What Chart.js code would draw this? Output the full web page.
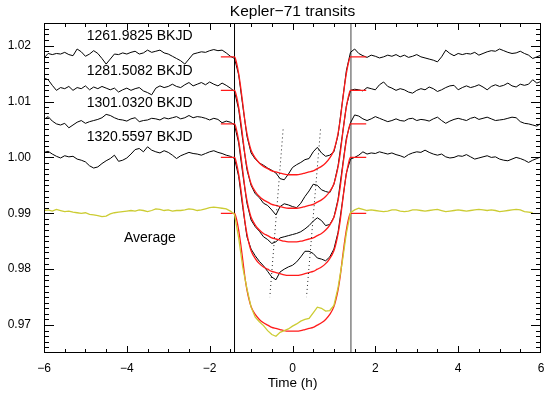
<!DOCTYPE html>
<html><head><meta charset="utf-8">
<script src="https://cdn.jsdelivr.net/npm/chart.js@4.4.1/dist/chart.umd.min.js"></script>
<style>html,body{margin:0;padding:0;background:#fff;}canvas{display:block;}</style>
</head><body>
<canvas id="c" width="545" height="394"></canvas>
<script>
// ---------- data ----------
const timeGrid = [-6.0,-5.9,-5.8,-5.7,-5.6,-5.5,-5.4,-5.3,-5.2,-5.1,-5.0,-4.9,-4.8,-4.7,-4.6,-4.5,-4.4,-4.3,-4.2,-4.1,
-4.0,-3.9,-3.8,-3.7,-3.6,-3.5,-3.4,-3.3,-3.2,-3.1,-3.0,-2.9,-2.8,-2.7,-2.6,-2.5,-2.4,-2.3,-2.2,-2.1,
-2.0,-1.9,-1.8,-1.7,-1.6,-1.5,-1.4,-1.3,-1.2,-1.1,-1.0,-0.9,-0.8,-0.7,-0.6,-0.5,-0.4,-0.3,-0.2,-0.1,
0.0,0.1,0.2,0.3,0.4,0.5,0.6,0.7,0.8,0.9,1.0,1.1,1.2,1.3,1.4,1.5,1.6,1.7,1.8,1.9,
2.0,2.1,2.2,2.3,2.4,2.5,2.6,2.7,2.8,2.9,3.0,3.1,3.2,3.3,3.4,3.5,3.6,3.7,3.8,3.9,
4.0,4.1,4.2,4.3,4.4,4.5,4.6,4.7,4.8,4.9,5.0,5.1,5.2,5.3,5.4,5.5,5.6,5.7,5.8,5.9,6.0];

const flux1261 = [1.0178,1.0186,1.0184,1.0186,1.0185,1.0188,1.0184,1.0182,1.0194,1.0189,
1.0181,1.0185,1.0191,1.0186,1.0177,1.0167,1.0176,1.0185,1.0184,1.0187,
1.0185,1.0188,1.0190,1.0185,1.0187,1.0192,1.0188,1.0190,1.0192,1.0187,
1.0185,1.0181,1.0177,1.0173,1.0167,1.0176,1.0185,1.0187,1.0189,1.0188,
1.0191,1.0193,1.0191,1.0192,1.0187,1.0181,1.0177,
1.0148,1.0092,1.0038,1.0008,0.9997,0.9990,0.9986,0.9981,0.9977,0.9972,
0.9962,0.9960,0.9970,0.9982,0.9987,0.9991,0.9996,0.9998,1.0010,1.0018,
1.0008,1.0002,1.0004,1.0010,1.0040,1.0097,1.0155,1.0188,1.0194,
1.0186,1.0182,1.0179,1.0183,1.0181,1.0178,1.0180,1.0183,1.0181,1.0184,
1.0180,1.0183,1.0179,1.0181,1.0184,1.0180,1.0178,1.0176,1.0174,1.0171,
1.0180,1.0192,1.0186,1.0182,1.0186,1.0184,1.0186,1.0185,1.0188,1.0183,
1.0186,1.0189,1.0191,1.0190,1.0194,1.0191,1.0188,1.0186,1.0187,1.0190,
1.0186,1.0183,1.0177,1.0180,1.0183];

const flux1281 = [1.0142,1.0139,1.0129,1.0120,1.0125,1.0123,1.0127,1.0120,1.0125,1.0123,
1.0128,1.0121,1.0126,1.0123,1.0127,1.0124,1.0121,1.0124,1.0117,1.0121,
1.0124,1.0120,1.0123,1.0125,1.0119,1.0116,1.0112,1.0124,1.0128,1.0125,
1.0127,1.0131,1.0127,1.0125,1.0130,1.0134,1.0128,1.0131,1.0134,1.0130,
1.0135,1.0131,1.0128,1.0133,1.0129,1.0124,1.0118,
1.0086,1.0030,0.9978,0.9950,0.9935,0.9928,0.9918,0.9914,0.9906,0.9897,
0.9912,0.9917,0.9915,0.9912,0.9910,0.9918,0.9930,0.9940,0.9952,0.9950,
0.9942,0.9939,0.9937,0.9952,0.9985,1.0038,1.0092,1.0120,1.0122,
1.0121,1.0119,1.0125,1.0123,1.0121,1.0130,1.0135,1.0127,1.0124,1.0120,
1.0123,1.0121,1.0117,1.0115,1.0120,1.0123,1.0121,1.0126,1.0123,1.0118,
1.0121,1.0125,1.0128,1.0129,1.0121,1.0125,1.0128,1.0125,1.0127,1.0130,
1.0126,1.0121,1.0127,1.0130,1.0127,1.0129,1.0133,1.0128,1.0126,1.0131,
1.0129,1.0131,1.0139,1.0133,1.0136];

const flux1301 = [1.0068,1.0073,1.0065,1.0060,1.0058,1.0061,1.0053,1.0058,1.0063,1.0066,
1.0061,1.0064,1.0066,1.0068,1.0071,1.0077,1.0075,1.0071,1.0068,1.0067,
1.0065,1.0069,1.0071,1.0064,1.0066,1.0067,1.0070,1.0069,1.0067,1.0071,
1.0069,1.0071,1.0073,1.0069,1.0071,1.0075,1.0071,1.0073,1.0072,1.0070,
1.0067,1.0070,1.0068,1.0062,1.0065,1.0063,1.0058,
1.0026,0.9970,0.9918,0.9888,0.9876,0.9868,0.9858,0.9853,0.9846,0.9849,
0.9856,0.9858,0.9860,0.9862,0.9864,0.9867,0.9872,0.9878,0.9886,0.9892,
0.9887,0.9878,0.9880,0.9893,0.9925,0.9980,1.0034,1.0062,1.0076,
1.0074,1.0069,1.0066,1.0069,1.0073,1.0070,1.0067,1.0064,1.0066,1.0069,
1.0066,1.0065,1.0069,1.0070,1.0066,1.0068,1.0067,1.0065,1.0069,1.0072,
1.0066,1.0061,1.0065,1.0068,1.0070,1.0068,1.0066,1.0070,1.0072,1.0068,
1.0070,1.0072,1.0069,1.0066,1.0067,1.0068,1.0070,1.0072,1.0071,1.0064,
1.0061,1.0060,1.0058,1.0056,1.0061];

const flux1320 = [1.0009,1.0011,1.0006,1.0002,0.9999,1.0003,1.0001,1.0002,0.9997,0.9995,
0.9992,0.9985,0.9981,0.9983,0.9989,0.9994,0.9998,1.0004,0.9993,0.9995,
0.9999,1.0006,1.0014,1.0016,1.0010,1.0019,1.0013,1.0010,1.0008,1.0012,
1.0009,1.0004,0.9998,1.0003,1.0006,1.0009,1.0007,1.0006,1.0004,1.0007,
1.0010,1.0012,1.0009,1.0007,1.0004,1.0002,0.9998,
0.9966,0.9910,0.9858,0.9836,0.9824,0.9814,0.9806,0.9796,0.9786,0.9781,
0.9795,0.9800,0.9804,0.9807,0.9813,0.9822,0.9832,0.9832,0.9828,0.9820,
0.9818,0.9815,0.9822,0.9836,0.9866,0.9918,0.9972,0.9997,1.0000,
1.0004,1.0010,1.0006,1.0008,1.0007,1.0010,1.0008,1.0006,1.0008,1.0005,
1.0003,1.0000,1.0005,1.0008,1.0010,1.0009,1.0013,1.0009,1.0006,1.0004,
1.0006,1.0001,0.9999,1.0000,1.0003,1.0002,1.0005,1.0001,0.9997,0.9999,
1.0001,1.0003,1.0000,1.0001,0.9997,0.9995,0.9994,0.9997,1.0000,0.9998,
0.9995,0.9991,0.9995,0.9998,1.0001];

const fluxAverage = [0.9905,0.9906,0.9904,0.9907,0.9905,0.9903,0.9904,0.9902,0.9901,0.9900,
0.9901,0.9898,0.9897,0.9896,0.9894,0.9895,0.9899,0.9901,0.9902,0.9903,
0.9904,0.9905,0.9904,0.9906,0.9905,0.9903,0.9905,0.9908,0.9907,0.9905,
0.9906,0.9904,0.9905,0.9905,0.9906,0.9908,0.9907,0.9905,0.9906,0.9908,
0.9910,0.9911,0.9910,0.9909,0.9908,0.9904,0.9898,
0.9856,0.9803,0.9765,0.9732,0.9714,0.9706,0.9699,0.9690,0.9683,0.9680,
0.9687,0.9690,0.9693,0.9698,0.9702,0.9707,0.9710,0.9712,0.9722,0.9732,
0.9730,0.9725,0.9726,0.9735,0.9767,0.9812,0.9864,0.9901,0.9906,
0.9909,0.9907,0.9905,0.9906,0.9905,0.9904,0.9903,0.9904,0.9906,0.9906,
0.9904,0.9903,0.9904,0.9906,0.9906,0.9905,0.9904,0.9905,0.9906,0.9907,
0.9905,0.9903,0.9904,0.9905,0.9906,0.9905,0.9904,0.9905,0.9906,0.9907,
0.9906,0.9905,0.9906,0.9905,0.9903,0.9904,0.9905,0.9906,0.9907,0.9906,
0.9903,0.9902,0.9901,null,null];

// transit model: time and drop below each curve's baseline
const modelTime = [-1.73,-1.40,-1.35,-1.30,-1.25,-1.20,-1.15,-1.10,-1.05,-1.00,
-0.90,-0.80,-0.70,-0.60,-0.50,-0.40,-0.30,-0.20,-0.10,0.00,
0.10,0.20,0.30,0.40,0.50,0.60,0.70,0.80,0.90,
1.00,1.05,1.10,1.15,1.20,1.25,1.30,1.35,1.40,1.78];
const modelDrop = [0,0,0.0011,0.0030,0.0055,0.0084,0.0114,0.0137,0.0154,0.0167,
0.0181,0.0190,0.0196,0.0200,0.0204,0.0206,0.0208,0.0210,0.0211,0.0211,
0.0211,0.0210,0.0208,0.0206,0.0204,0.0200,0.0196,0.0190,0.0181,
0.0167,0.0154,0.0137,0.0114,0.0084,0.0055,0.0030,0.0011,0,0];
const modelBaselines = [1.018, 1.012, 1.006, 1.000, 0.990];

const contactTimes = [-1.40, 1.41];
const dottedLeftTime = [-0.227, -0.548];
const dottedRightTime = [0.676, 0.338];
const dottedFlux = [1.005, 0.975];

const xTickValues = [-6, -4, -2, 0, 2, 4, 6];
const yTickValues = [0.97, 0.98, 0.99, 1.00, 1.01, 1.02];
const xRange = [-6, 6];
const yRange = [0.965, 1.024];

const curveLabels = ['1261.9825 BKJD', '1281.5082 BKJD', '1301.0320 BKJD', '1320.5597 BKJD', 'Average'];
const labelTime = [-4.97, -4.97, -4.97, -4.97, -4.07];
const labelFlux = [1.0217, 1.0155, 1.0097, 1.0037, 0.98555];

// ---------- chart ----------
const FONT = '"Liberation Sans", Arial, Helvetica, sans-serif';
const pts = (xs, ys) => xs.map((x, i) => ({x: x, y: ys[i]}));

const datasets = [];
contactTimes.forEach((t, i) => datasets.push({
  data: pts([t, t], yRange), borderColor: i === 0 ? '#000' : '#8a8a8a',
  borderWidth: i === 0 ? 1 : 1.6, pointRadius: 0, order: 10
}));
[flux1261, flux1281, flux1301, flux1320].forEach(arr => datasets.push({
  data: pts(timeGrid, arr), borderColor: '#000', borderWidth: 1, pointRadius: 0, order: 8
}));
modelBaselines.forEach(b => datasets.push({
  data: pts(modelTime, modelDrop.map(d => b - d)), borderColor: '#ff1a1a', borderWidth: 1.3,
  pointRadius: 0, cubicInterpolationMode: 'monotone', order: 6
}));
datasets.push({data: pts(timeGrid, fluxAverage), borderColor: '#cccc33', borderWidth: 1.3, pointRadius: 0, order: 4});
datasets.push({data: pts(dottedLeftTime, dottedFlux), borderColor: '#222', borderWidth: 1, borderDash: [1, 3], pointRadius: 0, order: 2});
datasets.push({data: pts(dottedRightTime, dottedFlux), borderColor: '#222', borderWidth: 1, borderDash: [1, 3], pointRadius: 0, order: 2});

const decor = {
  id: 'decor',
  afterDraw(chart) {
    const ctx = chart.ctx, a = chart.chartArea, x = chart.scales.x, y = chart.scales.y;
    ctx.save();
    ctx.setLineDash([]);
    ctx.fillStyle = '#000';
    const L = Math.round(a.left), R = Math.round(a.right) - 1, T = Math.round(a.top), B = Math.round(a.bottom) - 1;
    // x ticks: major every 2, minor every 0.5, inward on bottom and top
    for (let k = 0; k <= 24; k++) {
      const v = xRange[0] + k * 0.5;
      const px = Math.min(R, Math.round(x.getPixelForValue(v)));
      const len = (k % 4 === 0) ? 7 : 4;
      ctx.fillRect(px, B - len + 1, 1, len);
      ctx.fillRect(px, T, 1, len);
    }
    // y ticks: major every 0.01, minor every 0.001
    for (let k = 965; k <= 1024; k++) {
      const py = Math.min(B, Math.round(y.getPixelForValue(k / 1000)));
      const len = (k % 10 === 0) ? 10 : 5;
      ctx.fillRect(L, py, len, 1);
      ctx.fillRect(R - len + 1, py, len, 1);
    }
    // frame
    ctx.fillRect(L, T, R - L + 1, 1);
    ctx.fillRect(L, B, R - L + 1, 1);
    ctx.fillRect(L, T, 1, B - T + 1);
    ctx.fillRect(R, T, 1, B - T + 1);
    // curve labels
    ctx.font = '14px ' + FONT;
    ctx.textAlign = 'left';
    ctx.textBaseline = 'middle';
    curveLabels.forEach((s, i) => ctx.fillText(s, x.getPixelForValue(labelTime[i]), y.getPixelForValue(labelFlux[i])));
    // axis title
    ctx.font = '13.5px ' + FONT;
    ctx.textAlign = 'center';
    ctx.fillText('Time (h)', (a.left + a.right) / 2, 383);
    ctx.restore();
  }
};

new Chart(document.getElementById('c'), {
  type: 'line',
  data: {datasets},
  plugins: [decor],
  options: {
    responsive: false, animation: false, devicePixelRatio: 1,
    layout: {padding: {left: 0, right: 4, top: 0, bottom: 0}},
    plugins: {
      legend: {display: false}, tooltip: {enabled: false},
      title: {display: true, fullSize: false, text: 'Kepler\u221271 transits', color: '#000',
              font: {family: FONT, size: 15.5, weight: 'normal'}, padding: {top: 2, bottom: 2.7}}
    },
    scales: {
      x: {
        type: 'linear', min: xRange[0], max: xRange[1],
        grid: {display: false}, border: {display: false},
        afterBuildTicks: s => { s.ticks = xTickValues.map(v => ({value: v})); },
        afterFit: s => { s.height = 41; },
        ticks: {autoSkip: false, maxRotation: 0, padding: 0, color: '#000',
                font: {family: FONT, size: 12},
                callback: v => (v < 0 ? '\u2212' : '') + Math.abs(v)}
      },
      y: {
        type: 'linear', min: yRange[0], max: yRange[1],
        grid: {display: false}, border: {display: false},
        afterBuildTicks: s => { s.ticks = yTickValues.map(v => ({value: v})); },
        afterFit: s => { s.width = 44; },
        ticks: {autoSkip: false, padding: 5, color: '#000',
                font: {family: FONT, size: 12},
                callback: v => Number(v).toFixed(2)}
      }
    }
  }
});
</script>
</body></html>
